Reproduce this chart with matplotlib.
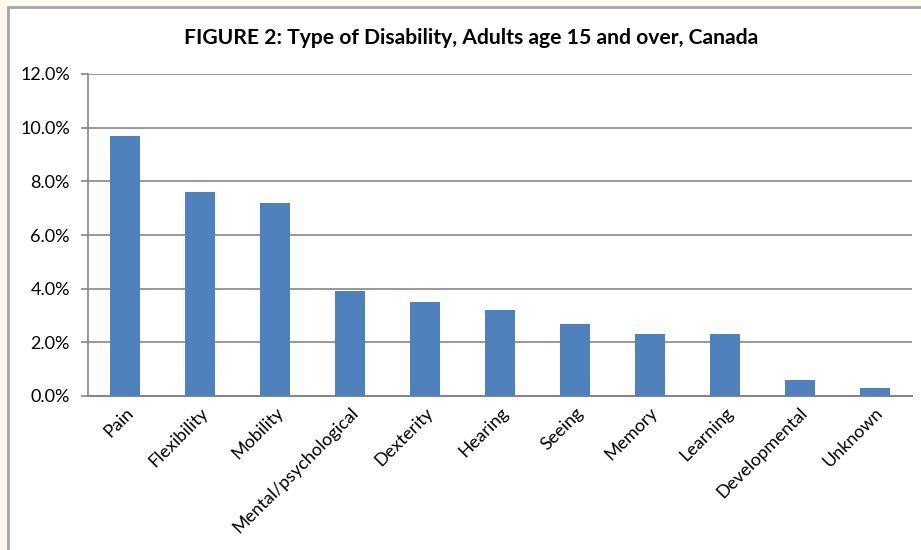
import matplotlib
matplotlib.use("Agg")
import matplotlib.pyplot as plt
from matplotlib.patches import Rectangle
from matplotlib.ticker import FuncFormatter, MultipleLocator

categories = ["Pain", "Flexibility", "Mobility", "Mental/psychological", "Dexterity",
              "Hearing", "Seeing", "Memory", "Learning", "Developmental", "Unknown"]
values = [9.7, 7.6, 7.2, 3.9, 3.5, 3.2, 2.7, 2.3, 2.3, 0.6, 0.3]
title = "FIGURE 2: Type of Disability, Adults age 15 and over, Canada"

plt.rcParams['font.family'] = ['Lato', 'DejaVu Sans']

W, H = 921, 550
fig = plt.figure(figsize=(W / 100, H / 100), dpi=100)
fig.patch.set_facecolor("#FBF8EC")

# white chart box
box = Rectangle((8 / W, -0.1), 1.2, 1 - 7 / H + 0.1, transform=fig.transFigure,
                facecolor="white", edgecolor="#A6A6A6", linewidth=2, zorder=-5)
fig.add_artist(box)

ax = fig.add_axes([88 / W, 1 - 396 / H, (912 - 88) / W, (396 - 74) / H])
ax.set_zorder(2)
ax.set_facecolor("white")
x = list(range(len(categories)))
ax.bar(x, values, width=0.4, color="#4F81BD", zorder=3)
ax.set_xlim(-0.5, len(categories) - 0.5)
ax.set_ylim(0, 12)
ax.yaxis.set_major_locator(MultipleLocator(2))
ax.yaxis.set_major_formatter(FuncFormatter(lambda v, p: f"{v:.1f}%"))
ax.grid(axis="y", color="#868686", linewidth=1.2, zorder=1)
for s in ["top", "right"]:
    ax.spines[s].set_visible(False)
ax.spines["left"].set_color("#868686")
ax.spines["left"].set_linewidth(1.2)
ax.spines["bottom"].set_color("#868686")
ax.spines["bottom"].set_linewidth(1.5)
ax.tick_params(axis="y", length=5, color="#868686", width=1.2, pad=8, labelsize=13, labelcolor="black")
ax.tick_params(axis="x", length=0, pad=6, labelsize=13)
ax.set_xticks(x)
ax.set_xticklabels(categories, rotation=45, ha="right", rotation_mode="anchor")

fig.text(471 / W, 1 - 38 / H, title, ha="center", va="center", fontsize=15.2, fontweight="bold",
         zorder=5)

fig.savefig("out.png", dpi=100, facecolor=fig.get_facecolor())
